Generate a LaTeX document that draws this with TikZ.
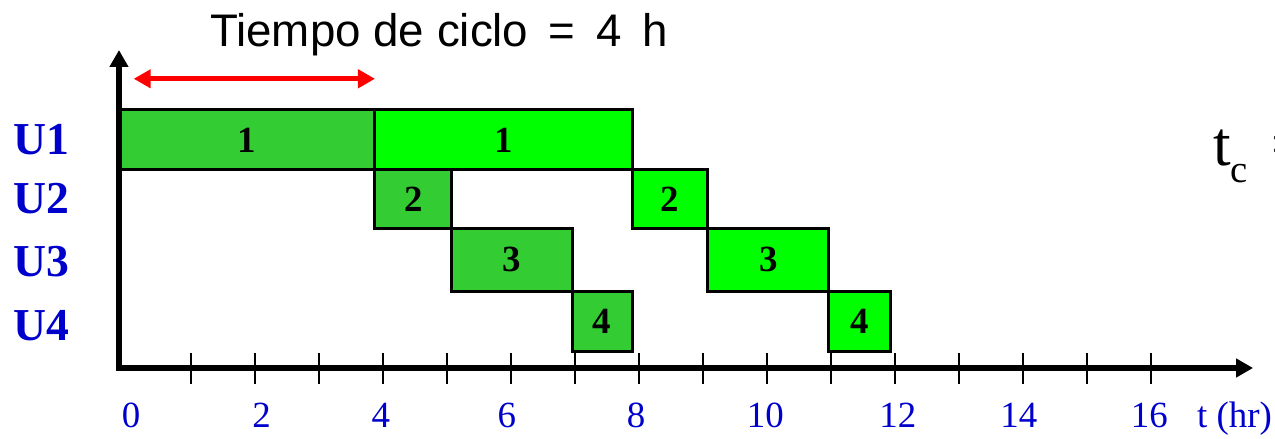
\documentclass[tikz,border=0pt]{standalone}
\usepackage{fontspec}
\setmainfont{Liberation Serif}
\newfontfamily\gcSansFont{Liberation Sans}
\usepackage{tikz}
\usetikzlibrary{arrows.meta, calc}
\definecolor{gcBatchA}{HTML}{33CC33}
\definecolor{gcBatchB}{HTML}{00FF00}
\definecolor{gcUnit}{HTML}{0000CC}
\definecolor{gcCycle}{HTML}{FF0000}
\tikzset{
    gcBarBase/.style={
        draw=black,
        line width=1.7pt
    },
    % Batches
    batchA/.style={gcBarBase, fill=gcBatchA},
    batchB/.style={gcBarBase, fill=gcBatchB},
    % Texts
    gcNum/.style={font=\fontsize{21}{23}\selectfont\bfseries, text=black},
    gcUnitLabel/.style={font=\fontsize{26}{28}\selectfont\bfseries, text=gcUnit},
    gcTickLabel/.style={font=\fontsize{21}{23}\selectfont, text=gcUnit, anchor=base},
    % Axes and arrows
    gcAxis/.style={line width=3pt, draw=black, {Triangle[length=0.34cm, width=0.36cm]}-{Triangle[length=0.34cm, width=0.36cm]}},
    gcTick/.style={line width=1.1pt, draw=black},
    gcCycleArrow/.style={line width=2.8pt, draw=gcCycle, {Triangle[length=0.34cm, width=0.36cm]}-{Triangle[length=0.34cm, width=0.36cm]}}
}

\begin{document}
\begin{tikzpicture}[x=1.28cm, y=1.2cm]
    \useasboundingbox (-1.859,-1.1667) rectangle (18.0625,6.1333);
    % first batch
    \draw[batchA] (0,4.3) rectangle (4,3.3) node[gcNum, midway] (u1a) {1};
    \draw[batchA] (4,3.3) rectangle (5.2,2.333) node[gcNum, midway] (u2a) {2};
    \draw[batchA] (5.2,2.333) rectangle (7.08,1.283) node[gcNum, midway] (u3a) {3};
    \draw[batchA] (7.08,1.283) rectangle (8.02,0.283) node[gcNum, midway] (u4a) {4};
    % second batch
    \draw[batchB] (4,4.3) rectangle (8.02,3.3) node[gcNum, midway] (u1b) {1};
    \draw[batchB] (8.02,3.3) rectangle (9.2,2.333) node[gcNum, midway] (u2b) {2};
    \draw[batchB] (9.2,2.333) rectangle (11.09,1.283) node[gcNum, midway] (u3b) {3};
    \draw[batchB] (11.09,1.283) rectangle (12.05,0.283) node[gcNum, midway] (u4b) {4};
    % units
    \node[gcUnitLabel] (unit1) at (-1.21,3.8) {U1};
    \node[gcUnitLabel] (unit2) at (-1.21,2.82) {U2};
    \node[gcUnitLabel] (unit3) at (-1.21,1.78) {U3};
    \node[gcUnitLabel] (unit4) at (-1.21,0.7) {U4};
    % axes
    \coordinate (yTop) at (0,5.3);
    \coordinate (orig) at (0,0);
    \coordinate (xEnd) at (17.72,0);
    \draw[gcAxis] (yTop) -- (orig) -- (xEnd);
    \foreach \k in {1,...,16}
        \draw[gcTick] (\k+0.125,-0.27) -- (\k+0.125,0.25);
    \foreach \t/\xp in {0/0.19, 2/2.23, 4/4.09, 6/6.06, 8/8.08, 10/10.1, 12/12.17, 14/14.06, 16/16.1}
        \node[gcTickLabel] (lbl\t) at (\xp,-1.0) {\t};
    \node[gcTickLabel, anchor=base west, inner sep=0] (tAxis) at (16.84,-1.0) {t (hr)};
    % cycle time
    \coordinate (cycStart) at (0.23,4.82);
    \coordinate (cycEnd) at (4.0,4.82);
    \draw[gcCycleArrow] (cycStart) -- (cycEnd);
    \node[anchor=base west, inner sep=0, font=\gcSansFont\fontsize{26}{28}\selectfont] (cycTitle) at (1.42,5.35)
        {Tiempo de ciclo\hspace{0.45em}=\hspace{0.45em}4\hspace{0.45em}h};
    \node[anchor=base west, inner sep=0] (tcLabel) at (17.09,3.383)
        {\fontsize{36}{40}\selectfont t\raisebox{-9.7pt}{\fontsize{22}{24}\selectfont c}\hspace{13.5pt}=};
\end{tikzpicture}
\end{document}
